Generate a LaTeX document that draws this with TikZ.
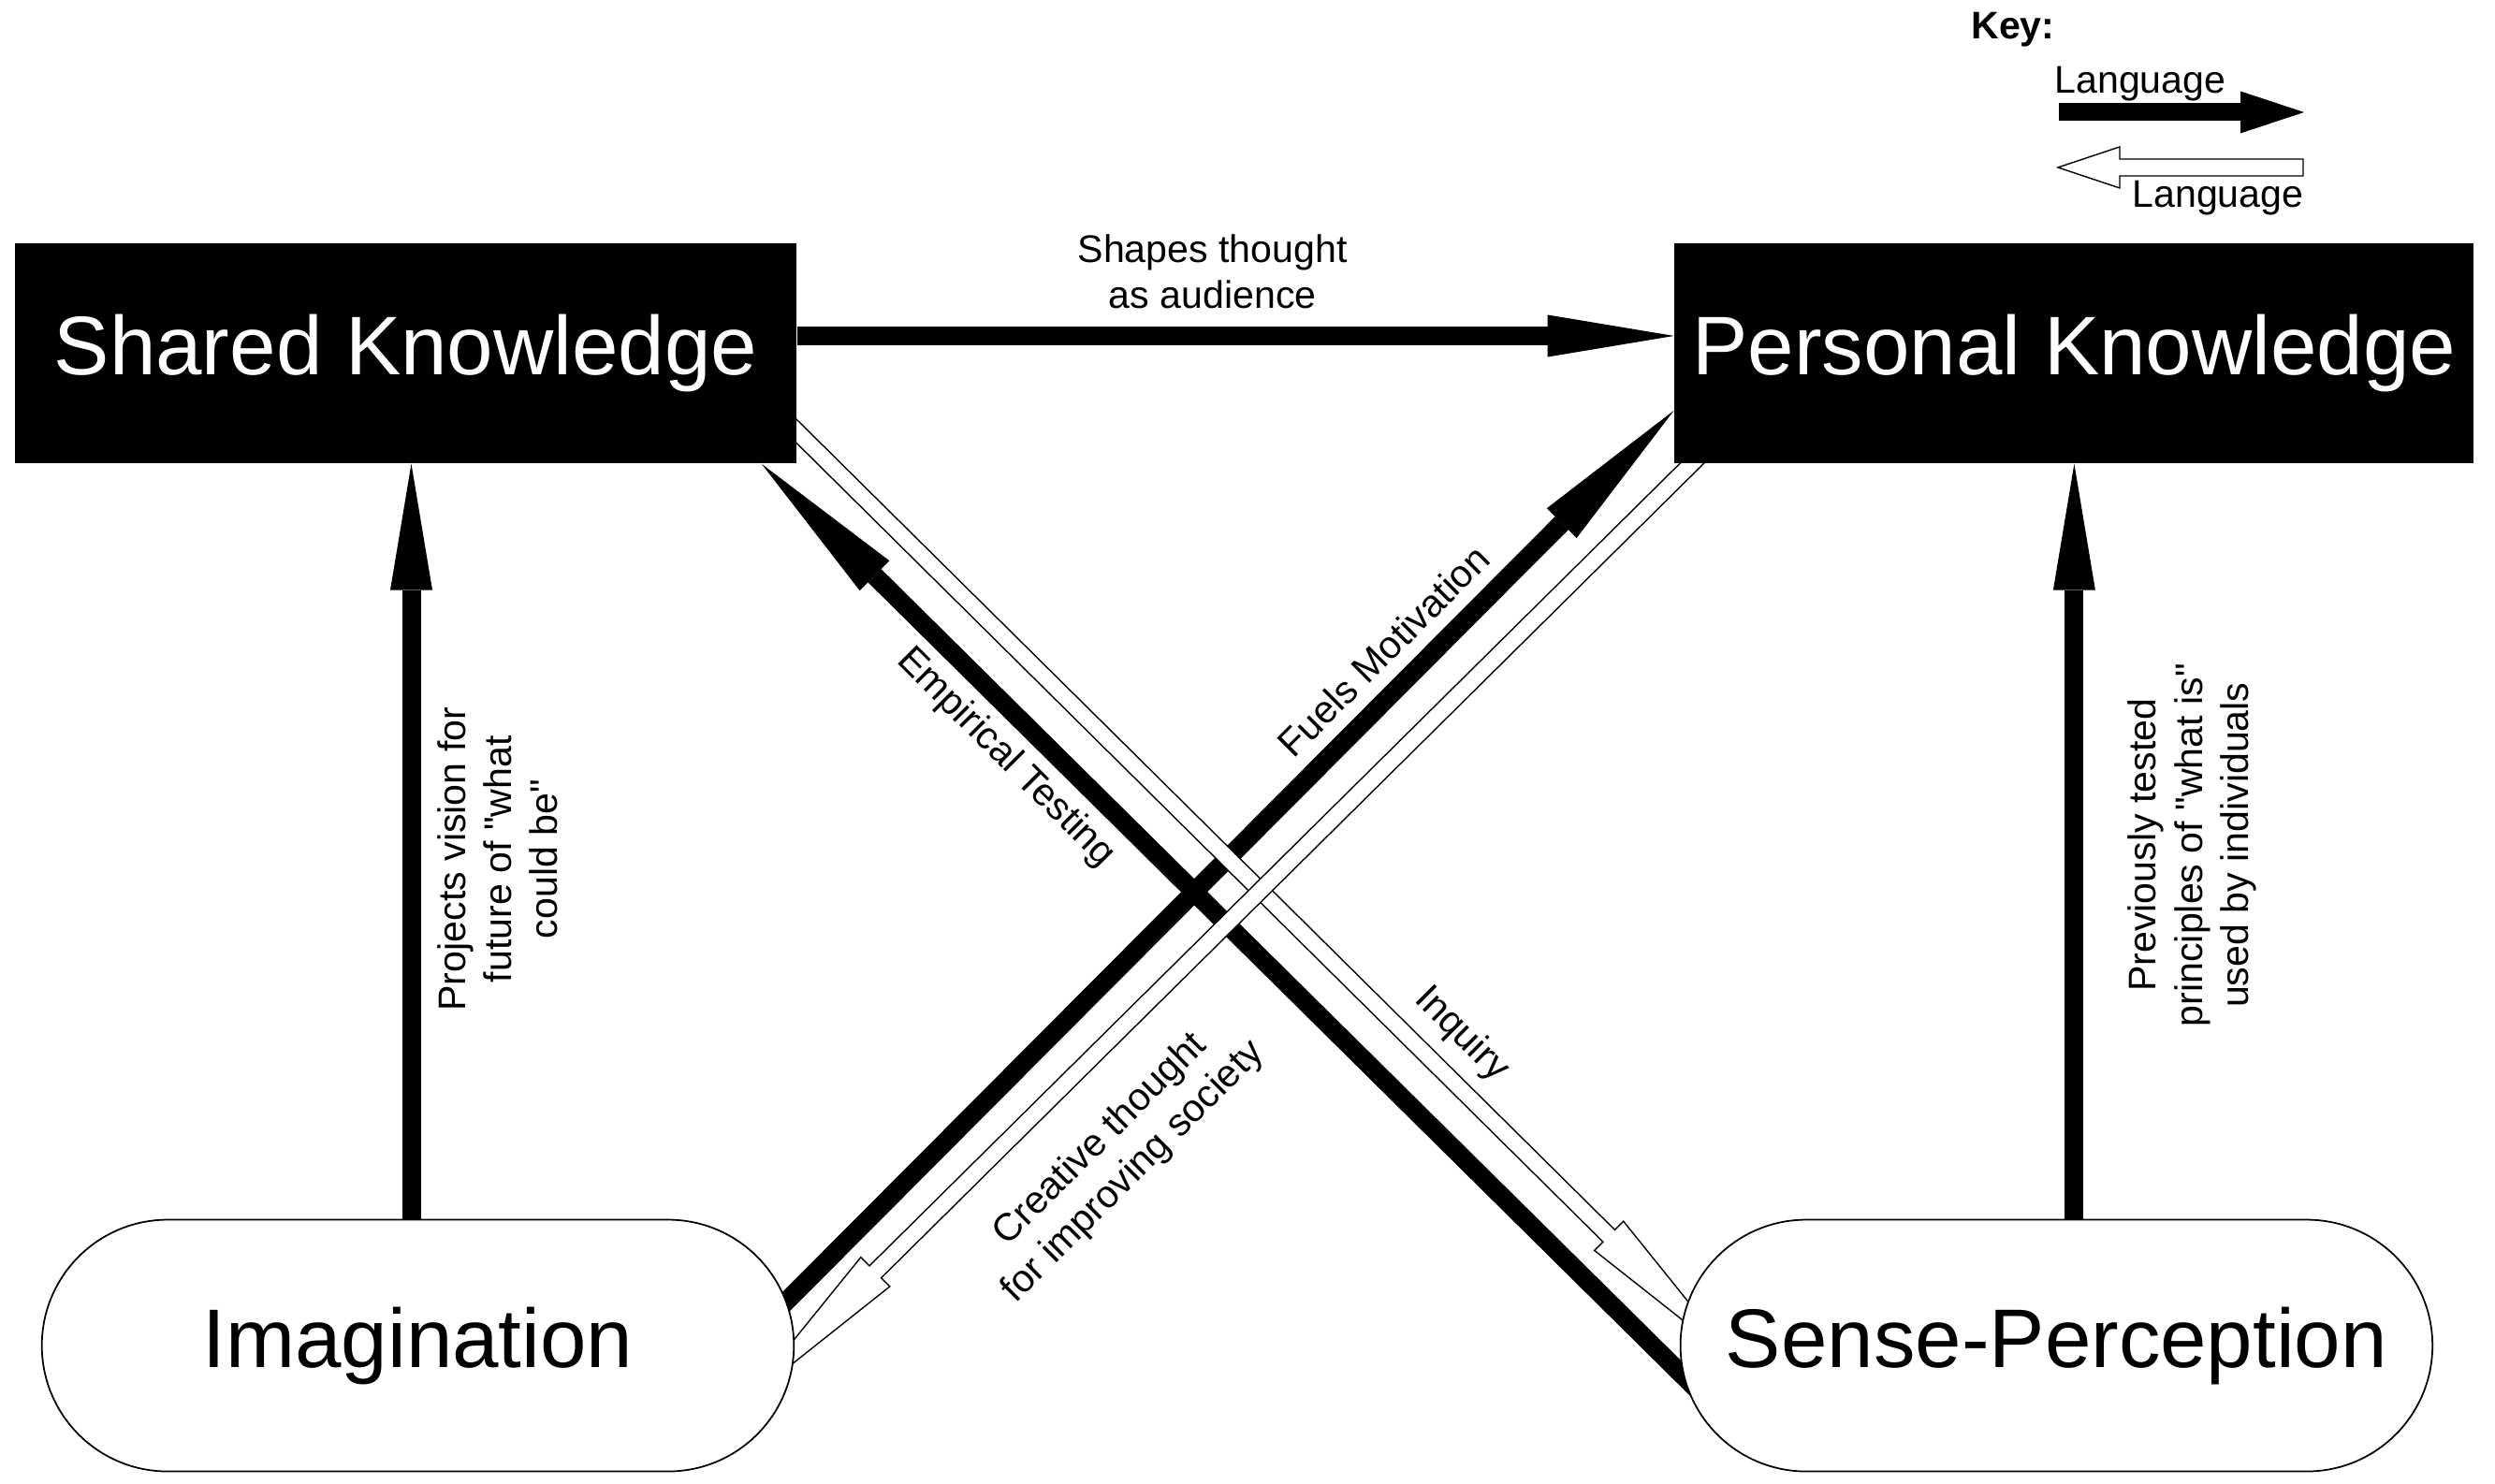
\documentclass[tikz,border=0pt]{standalone}
\usepackage{fontspec}
\setmainfont{Liberation Sans}
\usetikzlibrary{positioning, arrows.meta, shapes.misc, calc, backgrounds}

\tikzset{
  kbox/.style={rectangle, fill=black, text=white, inner xsep=0.12cm, minimum height=2.35cm, font=\fontsize{25.3}{30}\selectfont},
  faculty/.style={rounded rectangle, draw, line width=0.5pt, fill=white, minimum width=8.27cm, minimum height=2.69cm, font=\fontsize{25.3}{30}\selectfont},
  lbl/.style={font=\fontsize{11.7}{14}\selectfont, align=center},
  straightarrow/.style={line width=0.2cm, -{Triangle[length=1.35cm, width=0.45cm, line width=0pt]}},
  diagarrow/.style={line width=0.2cm, -{Triangle[length=1.7cm, width=0.45cm, line width=0pt]}},
  keyarrow/.style={line width=0.19cm, -{Triangle[length=0.68cm, width=0.45cm, line width=0pt]}},
  hollowline/.style={draw, fill=white, line width=0.4pt, line join=miter}
}

% straight double quote, kept out of the TeX ligature mapping
\newcommand{\straightquote}{\XeTeXglyph\XeTeXcharglyph"22\relax}

% hollow arrow: #1 tail, #2 tip, #3 head length
\newcommand{\hollowarrow}[3]{%
  \coordinate (hb) at ($(#2)!#3!(#1)$);
  \draw[hollowline] ($(#1)!0.09cm!90:(#2)$) -- ($(hb)!0.09cm!90:(#2)$) -- ($(hb)!0.22cm!90:(#2)$) -- (#2)
    -- ($(hb)!0.22cm!-90:(#2)$) -- ($(hb)!0.09cm!-90:(#2)$) -- ($(#1)!0.09cm!-90:(#2)$) -- cycle;
}

\begin{document}
\begin{tikzpicture}
    \useasboundingbox (0,0) rectangle (26.66,15.86);

    \node [kbox, minimum width=8.35cm] (shared) at (4.335,12.085) {Shared Knowledge};
    \node [kbox, minimum width=8.54cm, right=9.37cm of shared] (personal) {Personal Knowledge};
    \node [faculty, below=8.07cm of shared, xshift=0.13cm] (imag) {Imagination};
    \node [faculty, below=8.07cm of personal, xshift=-0.19cm] (sense) {Sense-Perception};

    % key
    \node [lbl, font=\bfseries\fontsize{11.7}{14}\selectfont, anchor=base west] (key) at (20.94,15.44) {Key:};
    \coordinate (keyA) at (22.00,14.66);
    \coordinate (keyB) at (24.62,14.66);
    \draw [keyarrow] (keyA) -- (keyB);
    \node [lbl, anchor=base west] (keylang1) at (21.83,14.86) {Language};
    \coordinate (keyC) at (24.61,14.07);
    \coordinate (keyD) at (21.99,14.07);
    \hollowarrow{keyC}{keyD}{0.66cm}
    \node [lbl, anchor=base west] (keylang2) at (22.66,13.64) {Language};

    \begin{scope}[on background layer]
	\draw [straightarrow] ([yshift=0.185cm]shared.east) -- node[lbl, xshift=-0.245cm, yshift=0.69cm] (shapeslbl) {Shapes thought\\as audience} ([yshift=0.185cm]personal.west);
	\draw [straightarrow] ([xshift=0.06cm]shared.south |- imag.north) -- node[lbl, xshift=0.925cm, yshift=-0.19cm, rotate=90] (projlbl) {Projects vision for\\future of \straightquote what\\could be\straightquote} ([xshift=0.06cm]shared.south);
	\draw [straightarrow] (personal.south |- sense.north) -- node[lbl, xshift=1.26cm, yshift=-0.04cm, rotate=90] (prevlbl) {Previously tested\\principles of \straightquote what is\straightquote\\used by individuals} (personal.south);

	\draw [diagarrow] ([xshift=0.58cm, yshift=-0.86cm]sense.west) -- node[lbl, pos=0.749, yshift=-0.56cm, rotate=-45] (emplbl) {Empirical Testing} ([xshift=-0.38cm]shared.south east);
	\draw [diagarrow] ([xshift=-0.5cm, yshift=0.06cm]imag.east) -- node[lbl, pos=0.686, yshift=0.55cm, rotate=45] (fuelslbl) {Fuels Motivation} ([yshift=0.57cm]personal.south west);

	\coordinate (inqS) at ([xshift=-0.3cm, yshift=0.64cm]shared.south east);
	\coordinate (inqE) at ([xshift=0.63cm, yshift=-0.2cm]sense.west);
	\hollowarrow{inqS}{inqE}{1.95cm}
	\path (inqS) -- node[lbl, pos=0.714, yshift=0.59cm, rotate=-45] (inqlbl) {Inquiry} (inqE);

	\coordinate (creS) at ([xshift=0.47cm, yshift=0.28cm]personal.south west);
	\coordinate (creE) at ([xshift=-0.56cm, yshift=-0.62cm]imag.east);
	\hollowarrow{creS}{creE}{2cm}
	\path (creS) -- node[lbl, pos=0.616, yshift=-1.32cm, rotate=45] (crelbl) {Creative thought\\for improving society} (creE);
    \end{scope}
\end{tikzpicture}
\end{document}
